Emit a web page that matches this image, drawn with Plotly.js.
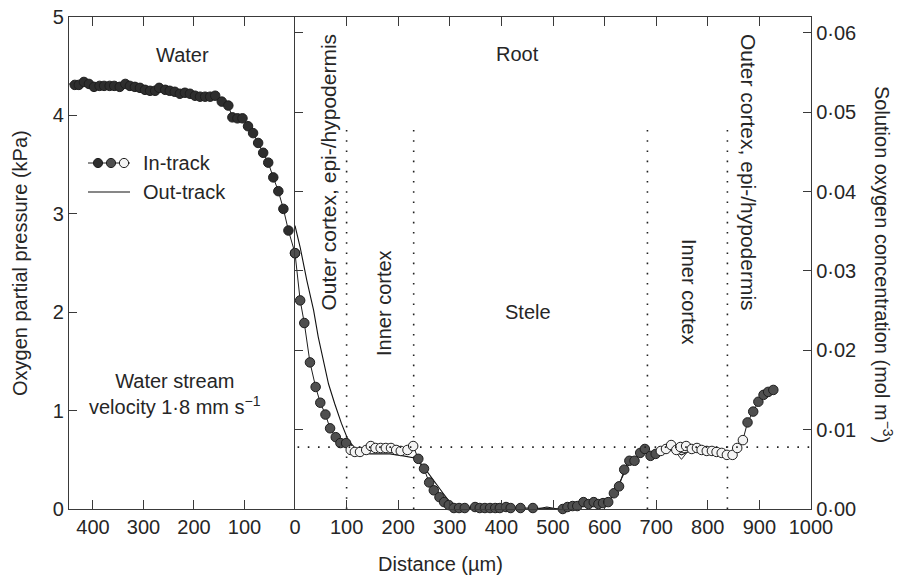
<!DOCTYPE html>
<html>
<head>
<meta charset="utf-8">
<script src="https://cdn.plot.ly/plotly-3.0.1.min.js"></script>
<style>html,body{margin:0;padding:0;background:#fff;}#chart{width:898px;height:576px;}</style>
</head>
<body>
<div id="chart"></div>
<script>
// ---- data (distance in µm; negative = water side; pressure in kPa) ----
const inTrackX = [-448,-436,-428,-418,-408,-398,-387,-378,-367,-358,-347,-336,-327,-317,-307,-297,-287,-277,-269,-257,-248,-238,-228,-218,-208,-198,-188,-178,-168,-158,-145,-132,-124,-114,-104,-93,-83,-73,-63,-53,-43,-33,-23,-13,0,
  10,18,29,40,49,59,68,79,88,99,
  108,116,126,138,147,156,166,176,186,196,205,218,229,
  239,250,260,269,280,289,298,308,318,329,349,358,368,378,388,397,409,418,437,461,519,528,538,547,559,569,579,588,597,607,618,628,638,648,658,669,
  678,689,699,709,719,729,739,747,758,769,779,788,798,808,817,827,837,
  848,857,868,877,888,898,908,917,927];
const inTrackY = [4.32,4.31,4.31,4.34,4.32,4.29,4.30,4.30,4.30,4.30,4.29,4.32,4.30,4.29,4.28,4.26,4.25,4.25,4.28,4.26,4.25,4.24,4.22,4.23,4.22,4.20,4.19,4.19,4.19,4.20,4.14,4.10,3.98,3.97,3.97,3.89,3.82,3.72,3.62,3.52,3.37,3.23,3.05,2.83,2.60,
  2.12,1.89,1.49,1.24,1.08,0.96,0.82,0.73,0.67,0.67,
  0.60,0.58,0.58,0.60,0.64,0.62,0.62,0.62,0.62,0.60,0.59,0.60,0.64,
  0.51,0.41,0.27,0.19,0.12,0.07,0.04,0.01,0.01,0.01,0.02,0.01,0.01,0.01,0.01,0.01,0.02,0.01,0.01,0.01,0.00,0.02,0.03,0.03,0.07,0.05,0.07,0.05,0.06,0.07,0.16,0.23,0.40,0.49,0.49,0.57,
  0.61,0.54,0.56,0.59,0.61,0.65,0.60,0.63,0.64,0.61,0.62,0.60,0.59,0.59,0.58,0.57,0.55,
  0.55,0.62,0.70,0.88,0.99,1.09,1.16,1.19,1.21];
// W = water, R = root (filled), O = root (open symbols)
const inTrackType = 'WWWWWWWWWWWWWWWWWWWWWWWWWWWWWWWWWWWWWWWWWWWWW' +
  'RRRRRRRRRR' + 'OOOOOOOOOOOOO' +
  'RRRRRRRRRRRRRRRRRRRRRRRRRRRRRRRRRRRRRRR' +
  'OOOOOOOOOOOOOOOOO' + 'RRRRRRRRR';

const outTrackX = [0,10,23,36,45,55,65,77,90,103,119,145,184,210,229,249,268,287,300,313,350,400,470,488,509,530,560,600,615,630,645,660,675,700,730,749,770,800,840];
const outTrackY = [2.88,2.66,2.32,2.02,1.75,1.51,1.27,1.07,0.87,0.70,0.60,0.56,0.56,0.54,0.52,0.43,0.29,0.16,0.07,0.01,0.00,0.00,0.00,0.02,0.00,0.01,0.03,0.05,0.12,0.28,0.44,0.52,0.57,0.56,0.60,0.55,0.60,0.58,0.55];
const outTrackMarkX = [749];
const outTrackMarkY = [0.55];

const zoneBoundaries = [100, 230, 683, 838];
const zoneLineTop = 3.9;                // kPa
const referenceConcX = [5, 1000];
const referenceConc = 0.0078;           // mol m-3

const kPaTicks = [0,1,2,3,4,5];
const concTicks = [0,0.01,0.02,0.03,0.04,0.05,0.06];
const concTickText = ['0·00','0·01','0·02','0·03','0·04','0·05','0·06'];
const waterTicks = [-400,-300,-200,-100];
const waterTickText = ['400','300','200','100'];
const rootTicks = [0,100,200,300,400,500,600,700,800,900,1000];
const rootTickText = ['0','100','200','300','400','500','600','700','800','900','1000'];

const ML = 69, MR = 87, MT = 17, MB = 67, W = 898, H = 576;
const PW = W - ML - MR, PH = H - MT - MB;
const px = v => (v - ML) / PW;
const py = v => (H - MB - v) / PH;
const split = (295 - ML) / PW;

const FONT = '"Liberation Sans", Arial, Helvetica, sans-serif';
const TXT = '#262626';
const AX = '#3a3a3a';
const colorOf = {W: '#2e2e2e', R: '#4f4f4f', O: '#f4f4f4'};

const water = {x: [], y: [], c: []}, root = {x: [], y: [], c: []};
inTrackX.forEach((x, i) => {
  const t = inTrackType[i];
  if (x <= 0) { water.x.push(x); water.y.push(inTrackY[i]); water.c.push(colorOf[t]); }
  if (x >= 0) { root.x.push(x); root.y.push(inTrackY[i]); root.c.push(colorOf[x === 0 ? 'R' : t]); }
});

const dotted = {color: '#222', width: 1.6, dash: '1.6px,8.6px'};
const markerBase = {size: 9.5, line: {color: '#1e1e1e', width: 1}};
const traces = [
  {x: referenceConcX, y: [referenceConc, referenceConc], xaxis: 'x2', yaxis: 'y2', mode: 'lines', line: dotted, showlegend: false, hoverinfo: 'skip'},
  {x: outTrackX, y: outTrackY, xaxis: 'x2', yaxis: 'y3', mode: 'lines', line: {color: '#111', width: 1.1}, showlegend: false, hoverinfo: 'skip'},
  {x: outTrackMarkX, y: outTrackMarkY, xaxis: 'x2', yaxis: 'y3', mode: 'markers', marker: {symbol: 'triangle-down-open', size: 9, color: '#333', line: {width: 1}}, showlegend: false, cliponaxis: false},
  {x: water.x, y: water.y, xaxis: 'x', yaxis: 'y', mode: 'lines+markers', line: {color: '#1e1e1e', width: 1}, marker: Object.assign({color: water.c}, markerBase), showlegend: false, cliponaxis: false},
  {x: root.x, y: root.y, xaxis: 'x2', yaxis: 'y3', mode: 'lines+markers', line: {color: '#1e1e1e', width: 1}, marker: Object.assign({color: root.c}, markerBase), showlegend: false, cliponaxis: false}
];

const shapes = zoneBoundaries.map(b => ({type: 'line', xref: 'x2', yref: 'y3', x0: b, x1: b, y0: 0, y1: zoneLineTop, line: dotted, layer: 'below'}));
const lg = {x0: 88, x1: 130, y1: 163, y2: 192};
shapes.push({type: 'line', xref: 'paper', yref: 'paper', x0: px(lg.x0), x1: px(lg.x1), y0: py(lg.y1), y1: py(lg.y1), line: {color: '#1e1e1e', width: 1}});
shapes.push({type: 'line', xref: 'paper', yref: 'paper', x0: px(lg.x0), x1: px(lg.x1), y0: py(lg.y2), y1: py(lg.y2), line: {color: '#111', width: 1.1}});
[[98, colorOf.W], [111, colorOf.R], [124, colorOf.O]].forEach(([cx, col]) => {
  const r = 4.6;
  shapes.push({type: 'circle', xref: 'paper', yref: 'paper', x0: px(cx - r), x1: px(cx + r), y0: py(lg.y1 + r), y1: py(lg.y1 - r), fillcolor: col, line: {color: '#1e1e1e', width: 1}});
});

const ann = (text, x, y, opts) => Object.assign({text, xref: 'paper', yref: 'paper', x: px(x), y: py(y), xanchor: 'center', yanchor: 'middle', showarrow: false, font: {family: FONT, size: 20, color: TXT}}, opts || {});
const annotations = [
  ann('Water', 182, 55),
  ann('Root', 517, 54),
  ann('Stele', 528, 312),
  ann('Water stream<br>velocity 1·8 mm s<sup>−1</sup>', 175, 394),
  ann('Outer cortex, epi-/hypodermis', 327.5, 172, {textangle: -90, font: {family: FONT, size: 21, color: TXT}}),
  ann('Inner cortex', 384, 303, {textangle: -90}),
  ann('Inner cortex', 689, 292, {textangle: 90}),
  ann('Outer cortex, epi-/hypodermis', 749, 172, {textangle: 90, font: {family: FONT, size: 21, color: TXT}}),
  ann('In-track', 141, 163, {xanchor: 'left'}),
  ann('Out-track', 141, 192, {xanchor: 'left'}),
  ann('Oxygen partial pressure (kPa)', 20, 263, {textangle: -90}),
  ann('Solution oxygen concentration (mol m<sup>−3</sup>)', 884, 264, {textangle: 90}),
  ann('Distance (µm)', 440, 564)
];

const axBase = {showgrid: false, zeroline: false, showline: true, linecolor: AX, linewidth: 1.3, ticks: 'inside', tickcolor: AX, tickwidth: 1.3, ticklen: 9, tickfont: {family: FONT, size: 20, color: TXT}};
const layout = {
  width: W, height: H,
  margin: {l: ML, r: MR, t: MT, b: MB},
  paper_bgcolor: '#fff', plot_bgcolor: '#fff',
  showlegend: false,
  xaxis: Object.assign({}, axBase, {domain: [0, split], range: [-447.5, 0], anchor: 'y', tickvals: waterTicks, ticktext: waterTickText, mirror: 'ticks'}),
  xaxis2: Object.assign({}, axBase, {domain: [split, 1], range: [0, 1000], anchor: 'y3', tickvals: rootTicks, ticktext: rootTickText, mirror: 'ticks'}),
  yaxis: Object.assign({}, axBase, {range: [0, 5], anchor: 'x', tickvals: kPaTicks, ticklen: 8, ticksuffix: '\u2002'}),
  yaxis3: {range: [0, 5], anchor: 'x2', visible: false},
  yaxis2: Object.assign({}, axBase, {range: [0, 0.062], anchor: 'x2', overlaying: 'y3', side: 'right', tickvals: concTicks, ticktext: concTickText, ticklen: 8, mirror: 'ticks'}),
  shapes, annotations
};

Plotly.newPlot('chart', traces, layout, {displayModeBar: false});
</script>
</body>
</html>
